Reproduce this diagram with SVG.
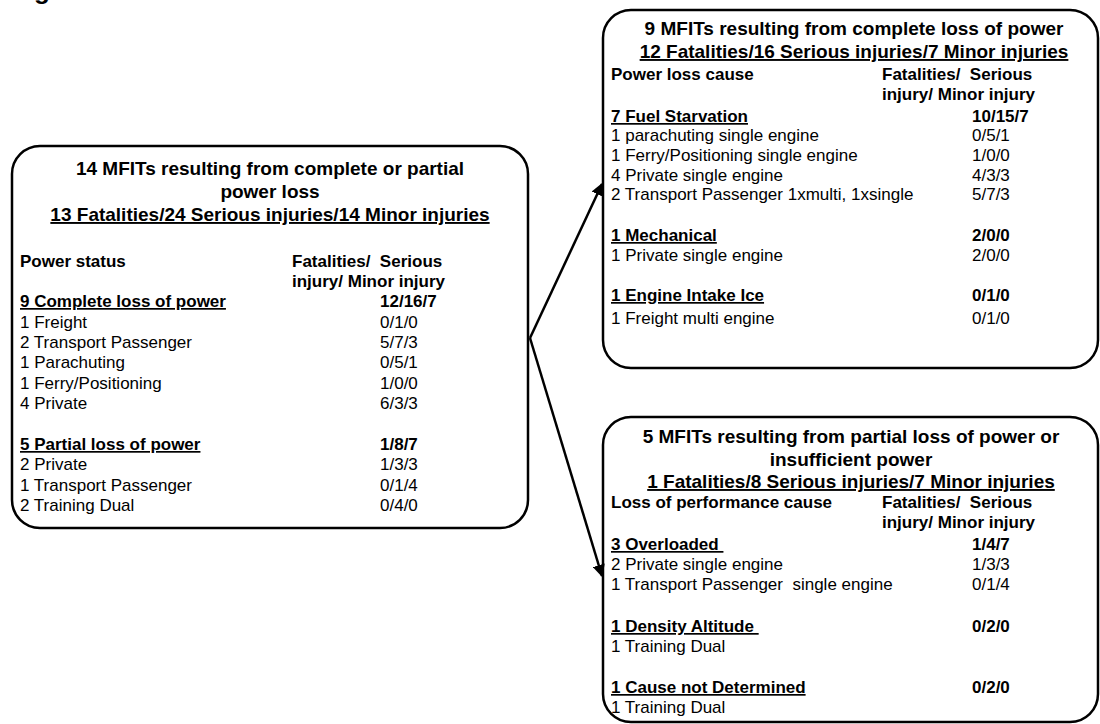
<svg xmlns="http://www.w3.org/2000/svg" width="1100" height="724" viewBox="0 0 1100 724">
<defs>
<style>
text{font-family:"Liberation Sans",Arial,sans-serif;fill:#000;}
.box{fill:#fff;stroke:#000;stroke-width:2.5;}
.t{font-size:19px;font-weight:bold;text-anchor:middle;}
.u{text-decoration:underline;}
.h{font-size:17px;font-weight:bold;white-space:pre;}
.b{font-size:17px;}
.bb{font-size:17px;font-weight:bold;}
.conn{stroke:#000;stroke-width:2.5;fill:none;}
</style>
<marker id="ah" viewBox="0 0 10 10" refX="9" refY="5" markerWidth="5" markerHeight="5" orient="auto" markerUnits="strokeWidth">
<path d="M0,0 L10,5 L0,10 z" fill="#000"/>
</marker>
</defs>
<rect width="1100" height="724" fill="#fff"/>
<text x="34" y="-1" style="font-size:26px;font-weight:bold;">g</text>

<g id="node-left">
<rect class="box" x="12" y="146" width="516" height="382" rx="28" ry="28"/>
<text class="t" x="270" y="175">14 MFITs resulting from complete or partial</text>
<text class="t" x="270" y="198">power loss</text>
<text class="t u" x="270" y="221">13 Fatalities/24 Serious injuries/14 Minor injuries</text>
<text class="h" x="20" y="267">Power status</text>
<text class="h" x="292" y="267">Fatalities/  Serious</text>
<text class="h" x="292" y="287">injury/ Minor injury</text>
<text class="bb u" x="20" y="307">9 Complete loss of power</text>
<text class="bb" x="380" y="307">12/16/7</text>
<text class="b" x="20" y="327.5">1 Freight</text><text class="b" x="380" y="327.5">0/1/0</text>
<text class="b" x="20" y="348">2 Transport Passenger</text><text class="b" x="380" y="348">5/7/3</text>
<text class="b" x="20" y="368">1 Parachuting</text><text class="b" x="380" y="368">0/5/1</text>
<text class="b" x="20" y="388.5">1 Ferry/Positioning</text><text class="b" x="380" y="388.5">1/0/0</text>
<text class="b" x="20" y="409">4 Private</text><text class="b" x="380" y="409">6/3/3</text>
<text class="bb u" x="20" y="450">5 Partial loss of power</text>
<text class="bb" x="380" y="450">1/8/7</text>
<text class="b" x="20" y="470">2 Private</text><text class="b" x="380" y="470">1/3/3</text>
<text class="b" x="20" y="490.5">1 Transport Passenger</text><text class="b" x="380" y="490.5">0/1/4</text>
<text class="b" x="20" y="511">2 Training Dual</text><text class="b" x="380" y="511">0/4/0</text>
</g>

<g id="node-complete">
<rect class="box" x="603" y="10" width="495" height="358" rx="28" ry="28"/>
<text class="t" x="854" y="35">9 MFITs resulting from complete loss of power</text>
<text class="t u" x="854" y="58">12 Fatalities/16 Serious injuries/7 Minor injuries</text>
<text class="h" x="611" y="80">Power loss cause</text>
<text class="h" x="882" y="80">Fatalities/  Serious</text>
<text class="h" x="882" y="100">injury/ Minor injury</text>
<text class="bb u" x="611" y="122">7 Fuel Starvation</text>
<text class="bb" x="972" y="122">10/15/7</text>
<text class="b" x="611" y="141">1 parachuting single engine</text><text class="b" x="972" y="141">0/5/1</text>
<text class="b" x="611" y="161">1 Ferry/Positioning single engine</text><text class="b" x="972" y="161">1/0/0</text>
<text class="b" x="611" y="181">4 Private single engine</text><text class="b" x="972" y="181">4/3/3</text>
<text class="b" x="611" y="200">2 Transport Passenger 1xmulti, 1xsingle</text><text class="b" x="972" y="200">5/7/3</text>
<text class="bb u" x="611" y="241">1 Mechanical</text>
<text class="bb" x="972" y="241">2/0/0</text>
<text class="b" x="611" y="261">1 Private single engine</text><text class="b" x="972" y="261">2/0/0</text>
<text class="bb u" x="611" y="301">1 Engine Intake Ice</text>
<text class="bb" x="972" y="301">0/1/0</text>
<text class="b" x="611" y="324">1 Freight multi engine</text><text class="b" x="972" y="324">0/1/0</text>
</g>

<g id="node-partial">
<rect class="box" x="603" y="417" width="495" height="305" rx="28" ry="28"/>
<text class="t" x="851" y="443">5 MFITs resulting from partial loss of power or</text>
<text class="t" x="851" y="466">insufficient power</text>
<text class="t u" x="851" y="488">1 Fatalities/8 Serious injuries/7 Minor injuries</text>
<text class="h" x="611" y="508">Loss of performance cause</text>
<text class="h" x="882" y="508">Fatalities/  Serious</text>
<text class="h" x="882" y="528">injury/ Minor injury</text>
<text class="bb u" x="611" y="550" style="white-space:pre">3 Overloaded </text>
<text class="bb" x="972" y="550">1/4/7</text>
<text class="b" x="611" y="570">2 Private single engine</text><text class="b" x="972" y="570">1/3/3</text>
<text class="b" x="611" y="590" style="white-space:pre">1 Transport Passenger  single engine</text><text class="b" x="972" y="590">0/1/4</text>
<text class="bb u" x="611" y="632" style="white-space:pre">1 Density Altitude </text>
<text class="bb" x="972" y="632">0/2/0</text>
<text class="b" x="611" y="652">1 Training Dual</text>
<text class="bb u" x="611" y="693">1 Cause not Determined</text>
<text class="bb" x="972" y="693">0/2/0</text>
<text class="b" x="611" y="713">1 Training Dual</text>
</g>

<g id="connectors">
<line class="conn" x1="530" y1="338" x2="602" y2="184" marker-end="url(#ah)"/>
<line class="conn" x1="530" y1="338" x2="602" y2="576" marker-end="url(#ah)"/>
</g>
</svg>
